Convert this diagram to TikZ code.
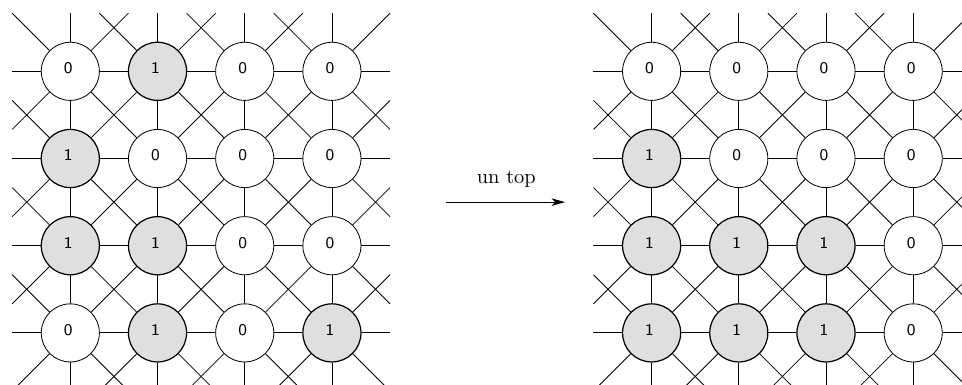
\documentclass[tikz,border=0pt]{standalone}
\usetikzlibrary{arrows.meta}
\begin{document}
\begin{tikzpicture}[
  celloff/.style={circle, draw, fill=white, minimum size=1cm, inner sep=0pt,
    font=\footnotesize\sffamily, text depth=3pt, line width=0.4pt},
  cellon/.style={celloff, fill=gray!25, line width=0.6pt},
  edge/.style={line width=0.4pt},
  toparrow/.style={-{Stealth[length=2.3mm,width=1.3mm,inset=0.6mm]}, line width=0.5pt}
]
\useasboundingbox (-1.21,1.227) rectangle (15.34,-5.396);
\clip (-1.21,1.227) rectangle (15.34,-5.396);
\foreach \g/\o/\vals in {L/0/{0,1,0,0,1,0,0,0,1,1,0,0,0,1,0,1},
                         R/10/{0,0,0,0,1,0,0,0,1,1,1,0,1,1,1,0}} {
  \foreach \v [count=\i from 0] in \vals {
    \pgfmathtruncatemacro\r{int(\i/4)}
    \pgfmathtruncatemacro\c{mod(\i,4)}
    \ifnum\v=1
      \node[cellon] (\g-\r-\c) at (\o+1.5*\c,-1.5*\r) {\v\kern2pt};
    \else
      \node[celloff] (\g-\r-\c) at (\o+1.5*\c,-1.5*\r) {\v\kern2pt};
    \fi
  }
  % inner connections
  \foreach \r in {0,...,3} {
    \foreach \c in {0,...,2} {
      \pgfmathtruncatemacro\cn{\c+1}
      \draw[edge] (\g-\r-\c) -- (\g-\r-\cn);
      \draw[edge] (\g-\c-\r) -- (\g-\cn-\r);
    }
  }
  \foreach \r in {0,...,2} {
    \foreach \c in {0,...,2} {
      \pgfmathtruncatemacro\cn{\c+1}
      \pgfmathtruncatemacro\rn{\r+1}
      \draw[edge] (\g-\r-\c) -- (\g-\rn-\cn);
      \draw[edge] (\g-\r-\cn) -- (\g-\rn-\c);
    }
  }
  % boundary stubs
  \foreach \r in {0,...,3} {
    \foreach \c in {0,...,3} {
      \foreach \dr in {-1,0,1} {
        \foreach \dc in {-1,0,1} {
          \pgfmathtruncatemacro\nr{\r+\dr}
          \pgfmathtruncatemacro\nc{\c+\dc}
          \pgfmathtruncatemacro\ok{((\dr!=0) || (\dc!=0)) && ((\nr<0) || (\nr>3) || (\nc<0) || (\nc>3))}
          \ifnum\ok=1
            \draw[edge] (\g-\r-\c) -- ++(\dc,-\dr);
          \fi
        }
      }
    }
  }
}
\coordinate (a1) at (6.47,-2.25);
\coordinate (a2) at (8.51,-2.25);
\node (lab) at (7.5,-1.85) {un top};
\draw[toparrow] (a1) -- (a2);
\end{tikzpicture}
\end{document}
